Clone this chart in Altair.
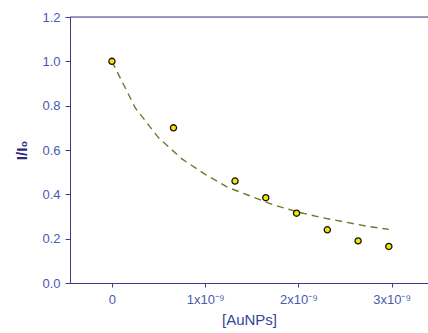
import altair as alt
import pandas as pd

# measured points
conc = [0, 0.66e-9, 1.32e-9, 1.65e-9, 1.98e-9, 2.31e-9, 2.64e-9, 2.97e-9]
ratio = [1.0, 0.70, 0.46, 0.385, 0.315, 0.24, 0.19, 0.165]

# fitted curve
fit_x = [0, 0.25e-9, 0.5e-9, 0.75e-9, 1.0e-9, 1.25e-9, 1.5e-9, 1.75e-9, 2.0e-9,
         2.25e-9, 2.5e-9, 2.75e-9, 2.97e-9]
fit_y = [1.0, 0.79, 0.655, 0.56, 0.49, 0.43, 0.39, 0.35, 0.32, 0.295, 0.275, 0.255, 0.242]

x_ticks = [0, 1e-9, 2e-9, 3e-9]
y_ticks = [0.0, 0.2, 0.4, 0.6, 0.8, 1.0, 1.2]

pts = pd.DataFrame({"x": conc, "y": ratio})
fit = pd.DataFrame({"x": fit_x, "y": fit_y})

AXIS = "#3c3c8c"
LABEL = "#4a5aae"
FONT = "Liberation Sans"

xscale = alt.Scale(domain=[-0.45e-9, 3.39e-9], nice=False, zero=False)
yscale = alt.Scale(domain=[0, 1.2], nice=False)

xaxis = alt.Axis(
    values=x_ticks, grid=False, domainColor=AXIS, tickColor=AXIS, tickSize=4,
    labelColor=LABEL, labelFont=FONT, labelFontSize=13, labelPadding=6,
    labelExpr="datum.value == 0 ? '0' : format(datum.value * 1e9, 'd') + 'x10⁻⁹'",
    title="[AuNPs]", titleColor="#34449a", titleFont=FONT, titleFontSize=15,
    titleFontWeight="normal", titlePadding=6,
)
yaxis = alt.Axis(
    values=y_ticks, grid=False, domainColor=AXIS, tickColor=AXIS, tickSize=5,
    labelColor=LABEL, labelFont=FONT, labelFontSize=13, labelPadding=5,
    format=".1f",
    title="I/I₀", titleColor="#2a2a78", titleFont=FONT, titleFontSize=15,
    titleFontWeight="bold", titlePadding=12,
)

line = alt.Chart(fit).mark_line(
    color="#6b7a2a", strokeDash=[7, 5], strokeWidth=1.4, clip=True
).encode(
    x=alt.X("x:Q", scale=xscale, axis=xaxis),
    y=alt.Y("y:Q", scale=yscale, axis=yaxis),
)

top = alt.Chart(pd.DataFrame({"y": [1.2]})).mark_rule(
    color=AXIS, strokeWidth=1.2
).encode(y=alt.Y("y:Q", scale=yscale), x=alt.value(0), x2=alt.value(358))

points = alt.Chart(pts).mark_point(
    filled=True, fill="#f5e400", stroke="#111111", strokeWidth=1.3,
    size=38, opacity=1, shape="circle"
).encode(
    x=alt.X("x:Q", scale=xscale),
    y=alt.Y("y:Q", scale=yscale),
)

chart = alt.layer(line, top, points).properties(
    width=358, height=266,
    padding={"left": 70, "top": 17, "right": 0, "bottom": 50},
    autosize=alt.AutoSizeParams(type="none"),
).configure_view(stroke=None).configure(background="white")

chart.save("out.html", embed_options={"renderer": "svg", "actions": False})
